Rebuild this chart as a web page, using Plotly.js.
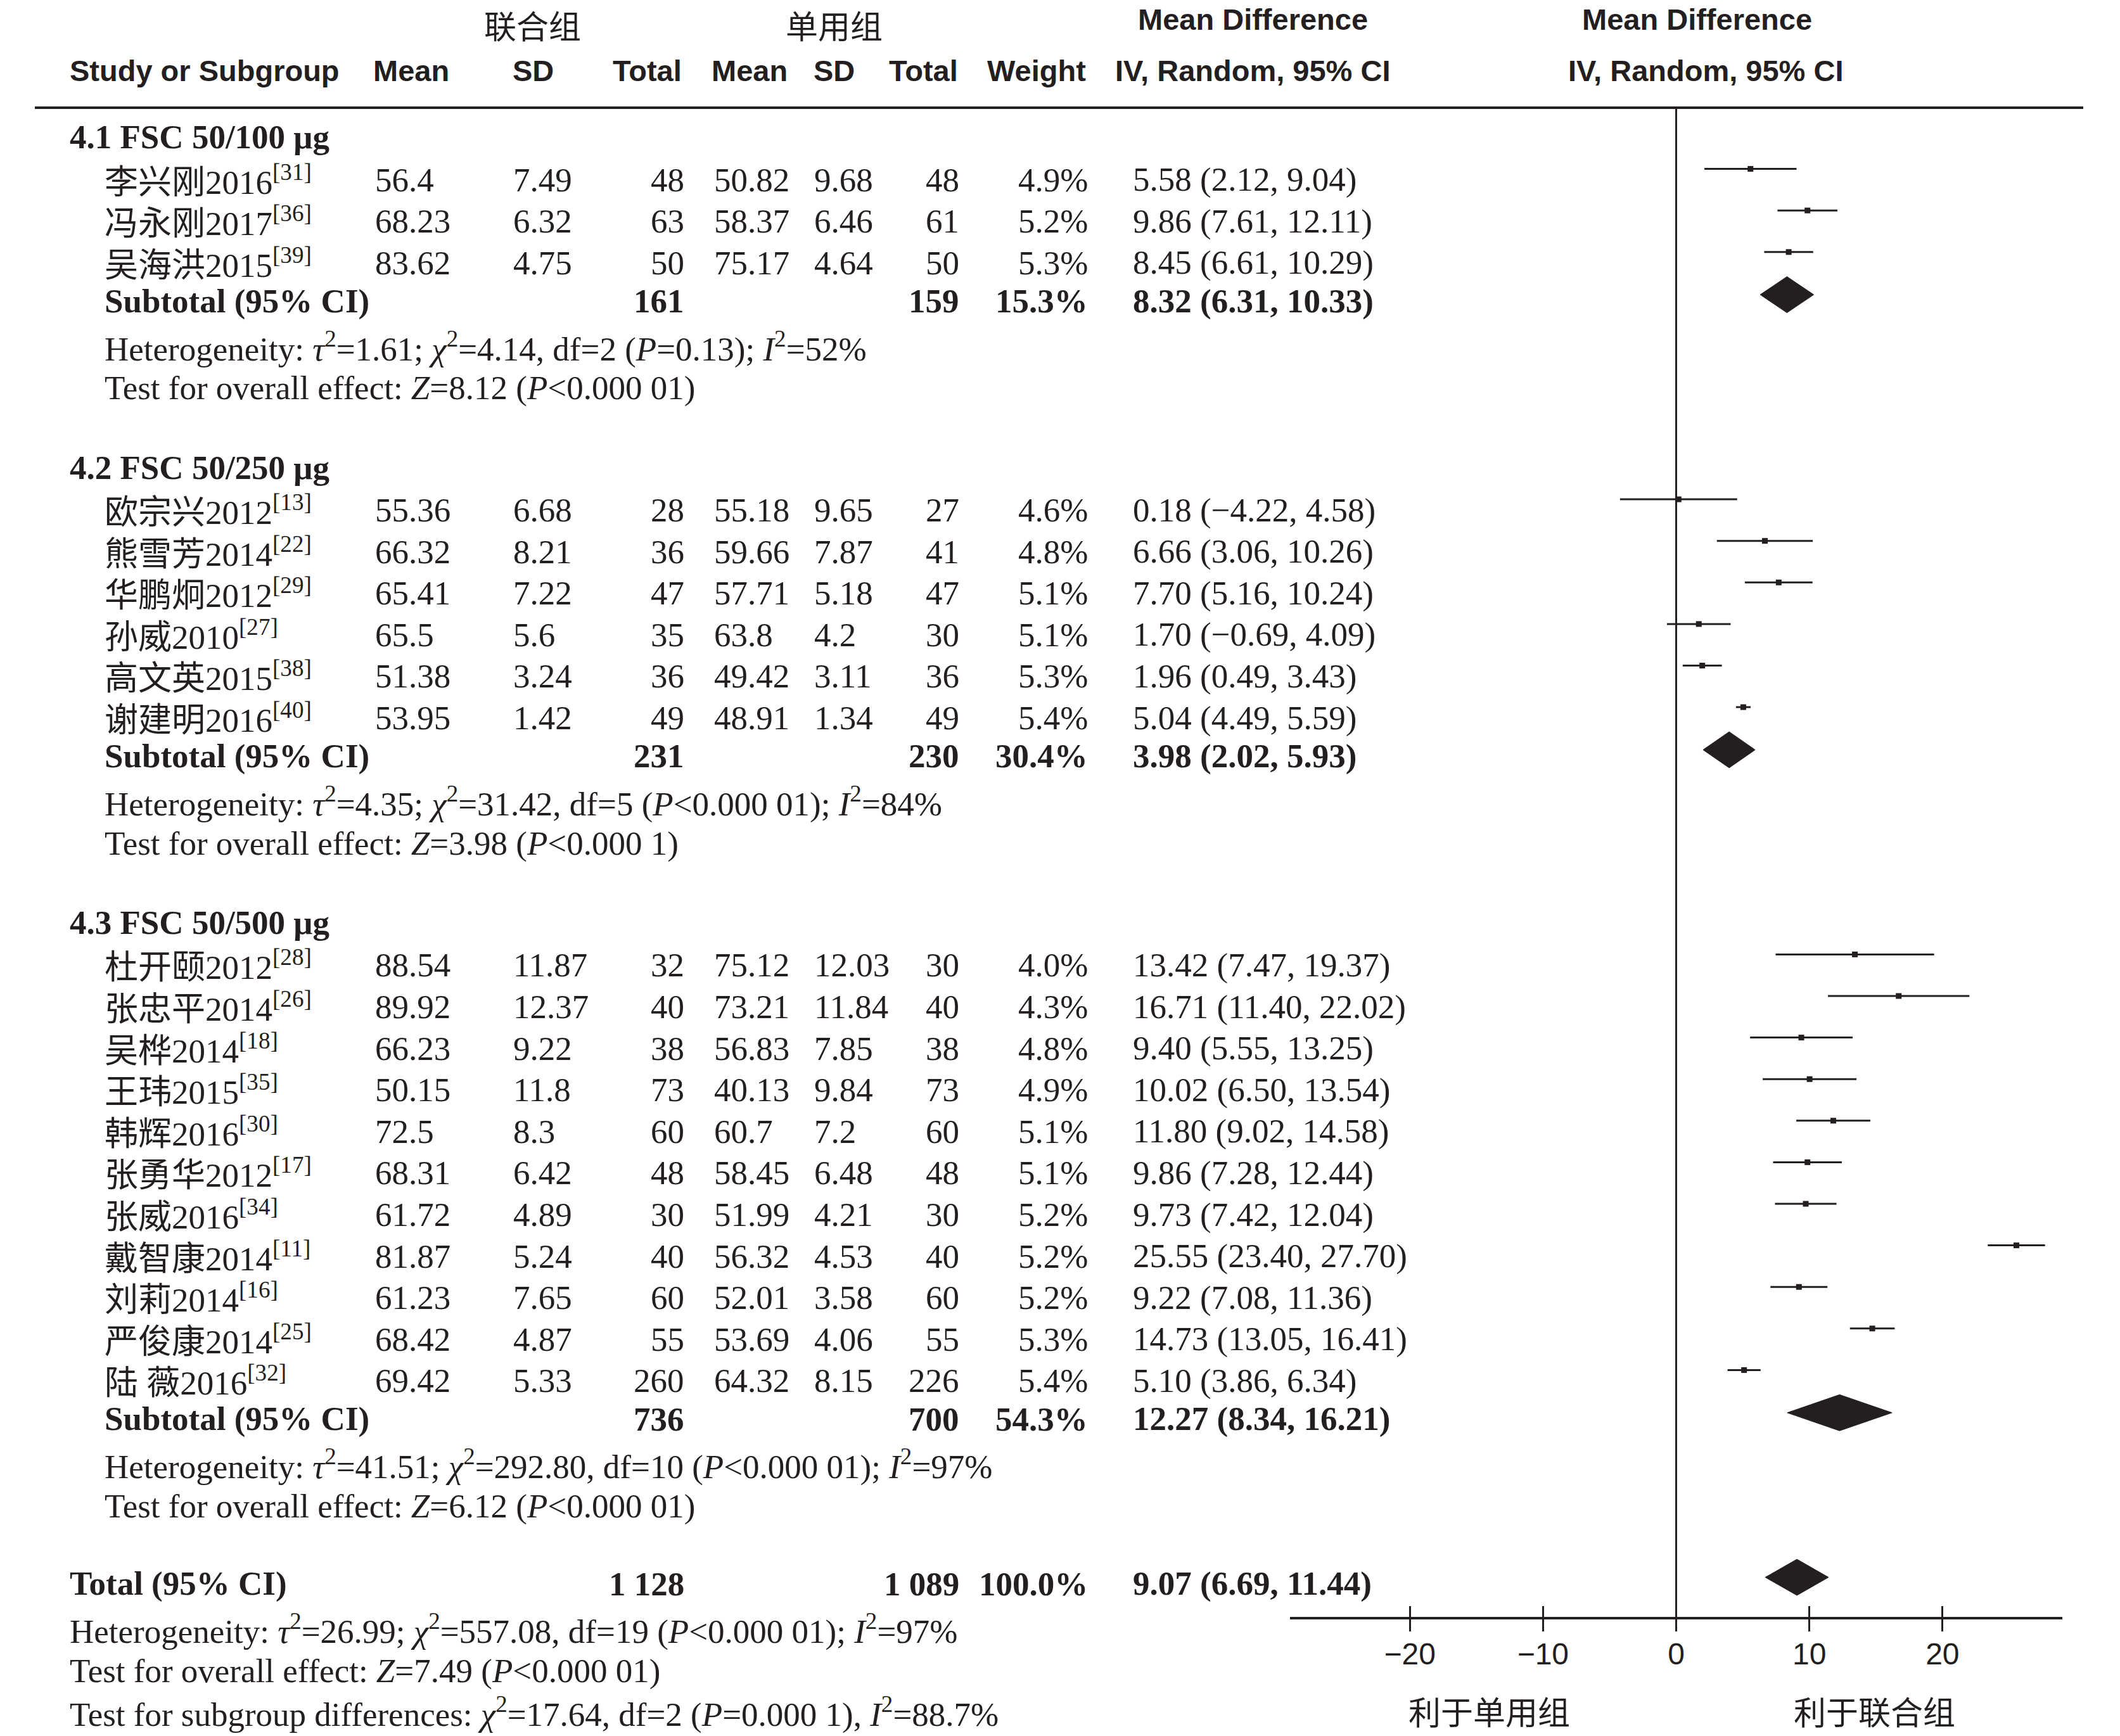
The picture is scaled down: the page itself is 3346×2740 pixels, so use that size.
<!DOCTYPE html>
<html>
<head>
<meta charset="utf-8">
<script src="https://cdn.plot.ly/plotly-3.0.1.min.js"></script>
<style>html,body{margin:0;padding:0;background:#fff;}</style>
</head>
<body>
<div id="chart" style="width:3346px;height:2740px;"></div>
<script>
// ---------------- DATA ----------------
const groupTitles = ["4.1 FSC 50/100 μg", "4.2 FSC 50/250 μg", "4.3 FSC 50/500 μg"];
const studyNames = ["李兴刚2016", "冯永刚2017", "吴海洪2015",
  "欧宗兴2012", "熊雪芳2014", "华鹏炯2012", "孙威2010", "高文英2015", "谢建明2016",
  "杜开颐2012", "张忠平2014", "吴桦2014", "王玮2015", "韩辉2016", "张勇华2012", "张威2016",
  "戴智康2014", "刘莉2014", "严俊康2014", "陆 薇2016"];
const studyRefs = [31, 36, 39, 13, 22, 29, 27, 38, 40, 28, 26, 18, 35, 30, 17, 34, 11, 16, 25, 32];
const studyGroup = [0, 0, 0, 1, 1, 1, 1, 1, 1, 2, 2, 2, 2, 2, 2, 2, 2, 2, 2, 2];
const comboMean = [56.4, 68.23, 83.62, 55.36, 66.32, 65.41, 65.5, 51.38, 53.95,
  88.54, 89.92, 66.23, 50.15, 72.5, 68.31, 61.72, 81.87, 61.23, 68.42, 69.42];
const comboSD = [7.49, 6.32, 4.75, 6.68, 8.21, 7.22, 5.6, 3.24, 1.42,
  11.87, 12.37, 9.22, 11.8, 8.3, 6.42, 4.89, 5.24, 7.65, 4.87, 5.33];
const comboN = [48, 63, 50, 28, 36, 47, 35, 36, 49, 32, 40, 38, 73, 60, 48, 30, 40, 60, 55, 260];
const singleMean = [50.82, 58.37, 75.17, 55.18, 59.66, 57.71, 63.8, 49.42, 48.91,
  75.12, 73.21, 56.83, 40.13, 60.7, 58.45, 51.99, 56.32, 52.01, 53.69, 64.32];
const singleSD = [9.68, 6.46, 4.64, 9.65, 7.87, 5.18, 4.2, 3.11, 1.34,
  12.03, 11.84, 7.85, 9.84, 7.2, 6.48, 4.21, 4.53, 3.58, 4.06, 8.15];
const singleN = [48, 61, 50, 27, 41, 47, 30, 36, 49, 30, 40, 38, 73, 60, 48, 30, 40, 60, 55, 226];
const studyWeight = [4.9, 5.2, 5.3, 4.6, 4.8, 5.1, 5.1, 5.3, 5.4, 4.0, 4.3, 4.8, 4.9, 5.1, 5.1, 5.2, 5.2, 5.2, 5.3, 5.4];
const studyMD = [5.58, 9.86, 8.45, 0.18, 6.66, 7.70, 1.70, 1.96, 5.04,
  13.42, 16.71, 9.40, 10.02, 11.80, 9.86, 9.73, 25.55, 9.22, 14.73, 5.10];
const studyLo = [2.12, 7.61, 6.61, -4.22, 3.06, 5.16, -0.69, 0.49, 4.49,
  7.47, 11.40, 5.55, 6.50, 9.02, 7.28, 7.42, 23.40, 7.08, 13.05, 3.86];
const studyHi = [9.04, 12.11, 10.29, 4.58, 10.26, 10.24, 4.09, 3.43, 5.59,
  19.37, 22.02, 13.25, 13.54, 14.58, 12.44, 12.04, 27.70, 11.36, 16.41, 6.34];

const subComboN = [161, 231, 736];
const subSingleN = [159, 230, 700];
const subWeight = [15.3, 30.4, 54.3];
const subMD = [8.32, 3.98, 12.27];
const subLo = [6.31, 2.02, 8.34];
const subHi = [10.33, 5.93, 16.21];
const subTau2 = [1.61, 4.35, 41.51];
const subChi2 = [4.14, 31.42, 292.80];
const subDf = [2, 5, 10];
const subHetP = ["=0.13", "<0.000 01", "<0.000 01"];
const subI2 = [52, 84, 97];
const subZ = [8.12, 3.98, 6.12];
const subZP = ["<0.000 01", "<0.000 1", "<0.000 01"];

const totalComboN = 1128;
const totalSingleN = 1089;
const totalWeight = 100.0;
const totalMD = 9.07, totalLo = 6.69, totalHi = 11.44;
const totalTau2 = 26.99, totalChi2 = 557.08, totalDf = 19, totalHetP = "<0.000 01", totalI2 = 97;
const totalZ = 7.49, totalZP = "<0.000 01";
const subgroupChi2 = 17.64, subgroupDf = 2, subgroupP = "=0.000 1", subgroupI2 = 88.7;

const tickVals = [-20, -10, 0, 10, 20];
const favourLabels = ["利于单用组", "利于联合组"];
const colHeaders = ["Study or Subgroup", "Mean", "SD", "Total", "Mean", "SD", "Total", "Weight", "IV, Random, 95% CI", "IV, Random, 95% CI"];
const topHeaders = ["联合组", "单用组", "Mean Difference", "Mean Difference"];

// ---------------- LAYOUT HELPERS ----------------
const W = 3346, H = 2740;
const U = 65.6;      // row pitch (px)
const M0 = 199;      // pixel y of marks for row 0
const TXT = 17;      // text centre sits this far below the mark line
const INK = '#231f20';
const fx = p => p / W;
const fy = p => 1 - p / H;
const textPx = r => M0 + r * U + TXT;

const serif = {family: "'Liberation Serif', 'Noto Sans CJK SC', serif", size: 53, color: INK};
const headFont = {family: "'Liberation Sans', Arial, sans-serif", size: 47, color: INK, weight: 'bold'};
const cjkFont = {family: "'Noto Sans CJK SC', sans-serif", size: 51, color: INK};

const fmtN = n => n >= 1000 ? String(n).replace(/(\d)(\d{3})$/, '$1 $2') : String(n);
const fmtNum = v => v.toFixed(2).replace('-', '−');
const fmtCI = (m, l, h) => `${fmtNum(m)} (${fmtNum(l)}, ${fmtNum(h)})`;
const het = (t, c, d, p, i) => `Heterogeneity: <i>τ</i><sup>2</sup>=${t.toFixed(2)}; <i>χ</i><sup>2</sup>=${c.toFixed(2)}, df=${d} (<i>P</i>${p}); <i>I</i><sup>2</sup>=${i}%`;
const zTest = (z, p) => `Test for overall effect: <i>Z</i>=${z.toFixed(2)} (<i>P</i>${p})`;

// column x positions (px) and anchors
const C = {grp: 109, name: 164, m1: 591, sd1: 809, n1: 1081, m2: 1126, sd2: 1284, n2: 1515, w: 1718, ci: 1787};

const annotations = [];
function txt(text, xpx, ypx, anchor, font, yanchor) {
  annotations.push({text: text, x: fx(xpx), y: fy(ypx), xref: 'paper', yref: 'paper',
    xanchor: anchor, yanchor: yanchor || 'middle', showarrow: false, font: font, borderpad: 0});
}

// headers
txt(topHeaders[0], 840, 1, 'center', cjkFont, 'top');
txt(topHeaders[1], 1316, 1, 'center', cjkFont, 'top');
txt(topHeaders[2], 1977, 31, 'center', headFont);
txt(topHeaders[3], 2678, 31, 'center', headFont);
const hdrY = 111;
txt(colHeaders[0], 109, hdrY, 'left', headFont);
txt(colHeaders[1], 649, hdrY, 'center', headFont);
txt(colHeaders[2], 841, hdrY, 'center', headFont);
txt(colHeaders[3], 1021, hdrY, 'center', headFont);
txt(colHeaders[4], 1183, hdrY, 'center', headFont);
txt(colHeaders[5], 1316, hdrY, 'center', headFont);
txt(colHeaders[6], 1457, hdrY, 'center', headFont);
txt(colHeaders[7], 1636, hdrY, 'center', headFont);
txt(colHeaders[8], 1977, hdrY, 'center', headFont);
txt(colHeaders[9], 2692, hdrY, 'center', headFont);

// rows
const studyRow = [];
const subRow = [];
let r = 0;
groupTitles.forEach((g, gi) => {
  txt('<b>' + g + '</b>', C.grp, textPx(r), 'left', serif);
  r += 1.03;
  studyGroup.forEach((sg, i) => {
    if (sg !== gi) return;
    studyRow[i] = r;
    const y = textPx(r);
    txt(`${studyNames[i]}<sup>[${studyRefs[i]}]</sup>`, C.name, y, 'left', serif);
    txt(String(comboMean[i]), C.m1, y, 'left', serif);
    txt(String(comboSD[i]), C.sd1, y, 'left', serif);
    txt(String(comboN[i]), C.n1, y, 'right', serif);
    txt(String(singleMean[i]), C.m2, y, 'left', serif);
    txt(String(singleSD[i]), C.sd2, y, 'left', serif);
    txt(String(singleN[i]), C.n2, y, 'right', serif);
    txt(studyWeight[i].toFixed(1) + '%', C.w, y, 'right', serif);
    txt(fmtCI(studyMD[i], studyLo[i], studyHi[i]), C.ci, y, 'left', serif);
    r += 1;
  });
  r = r - 1 + 0.92;
  subRow[gi] = r;
  const ys = textPx(r);
  txt('<b>Subtotal (95% CI)</b>', C.name, ys, 'left', serif);
  txt('<b>' + fmtN(subComboN[gi]) + '</b>', C.n1, ys, 'right', serif);
  txt('<b>' + fmtN(subSingleN[gi]) + '</b>', C.n2, ys, 'right', serif);
  txt('<b>' + subWeight[gi].toFixed(1) + '%</b>', C.w, ys, 'right', serif);
  txt('<b>' + fmtCI(subMD[gi], subLo[gi], subHi[gi]) + '</b>', C.ci, ys, 'left', serif);
  r += 1.1;
  txt(het(subTau2[gi], subChi2[gi], subDf[gi], subHetP[gi], subI2[gi]), C.name, textPx(r), 'left', serif);
  r += 1;
  txt(zTest(subZ[gi], subZP[gi]), C.name, textPx(r), 'left', serif);
  if (gi < groupTitles.length - 1) r += 1.9;
});
r += 1.86;
const totalRow = r;
const yt = textPx(r);
txt('<b>Total (95% CI)</b>', C.grp, yt, 'left', serif);
txt('<b>' + fmtN(totalComboN) + '</b>', C.n1, yt, 'right', serif);
txt('<b>' + fmtN(totalSingleN) + '</b>', C.n2, yt, 'right', serif);
txt('<b>' + totalWeight.toFixed(1) + '%</b>', C.w, yt, 'right', serif);
txt('<b>' + fmtCI(totalMD, totalLo, totalHi) + '</b>', C.ci, yt, 'left', serif);
r += 1.1;
txt(het(totalTau2, totalChi2, totalDf, totalHetP, totalI2), C.grp, textPx(r), 'left', serif);
r += 1;
txt(zTest(totalZ, totalZP), C.grp, textPx(r), 'left', serif);
r += 1;
txt(`Test for subgroup differences: <i>χ</i><sup>2</sup>=${subgroupChi2.toFixed(2)}, df=${subgroupDf} (<i>P</i>${subgroupP}), <i>I</i><sup>2</sup>=${subgroupI2}%`, C.grp, textPx(r), 'left', serif);

// favour labels under the axis
txt(favourLabels[0], 2350, 2700, 'center', cjkFont);
txt(favourLabels[1], 2958, 2700, 'center', cjkFont);

// ---------------- TRACES ----------------
const ciX = [], ciY = [];
studyMD.forEach((m, i) => { ciX.push(studyLo[i], studyHi[i], null); ciY.push(studyRow[i], studyRow[i], null); });
const traces = [];
traces.push({type: 'scatter', mode: 'lines', x: ciX, y: ciY, line: {color: INK, width: 3},
  hoverinfo: 'skip', showlegend: false});
traces.push({type: 'scatter', mode: 'markers', x: studyMD, y: studyRow,
  marker: {symbol: 'square', size: 9, color: INK, line: {width: 0}}, hoverinfo: 'skip', showlegend: false});

const dh = 28.5 / U, ds = 7 / U;
function diamond(m, l, h, row) {
  const c = row + ds;
  traces.push({type: 'scatter', mode: 'lines', x: [l, m, h, m, l], y: [c, c - dh, c, c + dh, c],
    fill: 'toself', fillcolor: INK, line: {color: INK, width: 1}, hoverinfo: 'skip', showlegend: false});
}
subMD.forEach((m, gi) => diamond(m, subLo[gi], subHi[gi], subRow[gi]));
diamond(totalMD, totalLo, totalHi, totalRow);

// dummy trace so the inside-tick overlay axis is drawn
traces.push({type: 'scatter', mode: 'markers', x: [null], y: [null], xaxis: 'x2', yaxis: 'y',
  hoverinfo: 'skip', showlegend: false});

const axisPx = 2554;
const xDomain = [fx(2036), fx(3255)];
const rTop = -M0 / U, rBot = (H - M0) / U;

const layout = {
  width: W, height: H,
  margin: {l: 0, r: 0, t: 0, b: 0},
  paper_bgcolor: '#fff', plot_bgcolor: 'rgba(0,0,0,0)',
  showlegend: false,
  xaxis: {domain: xDomain, range: [-29, 29], anchor: 'free', position: fy(axisPx),
    showline: true, linewidth: 4, linecolor: INK, ticks: 'outside', ticklen: 19, tickwidth: 3, tickcolor: INK,
    tickmode: 'array', tickvals: tickVals, ticklabelstandoff: -6,
    tickfont: {family: "'Liberation Sans', Arial, sans-serif", size: 48, color: INK},
    showgrid: false, zeroline: false, fixedrange: true},
  xaxis2: {domain: xDomain, matches: 'x', overlaying: 'x', anchor: 'free', position: fy(axisPx),
    showline: false, ticks: 'inside', ticklen: 19, tickwidth: 3, tickcolor: INK,
    tickmode: 'array', tickvals: tickVals, showticklabels: false,
    showgrid: false, zeroline: false, fixedrange: true},
  yaxis: {domain: [0, 1], range: [rBot, rTop], visible: false, showgrid: false, zeroline: false, fixedrange: true},
  shapes: [
    {type: 'line', xref: 'paper', yref: 'paper', x0: fx(55), x1: fx(3288), y0: fy(170), y1: fy(170),
      line: {color: INK, width: 4}},
    {type: 'line', xref: 'x', yref: 'paper', x0: 0, x1: 0, y0: fy(axisPx), y1: fy(168),
      line: {color: INK, width: 3}}
  ],
  annotations: annotations
};

Plotly.newPlot('chart', traces, layout, {staticPlot: true, displayModeBar: false});
</script>
</body>
</html>
